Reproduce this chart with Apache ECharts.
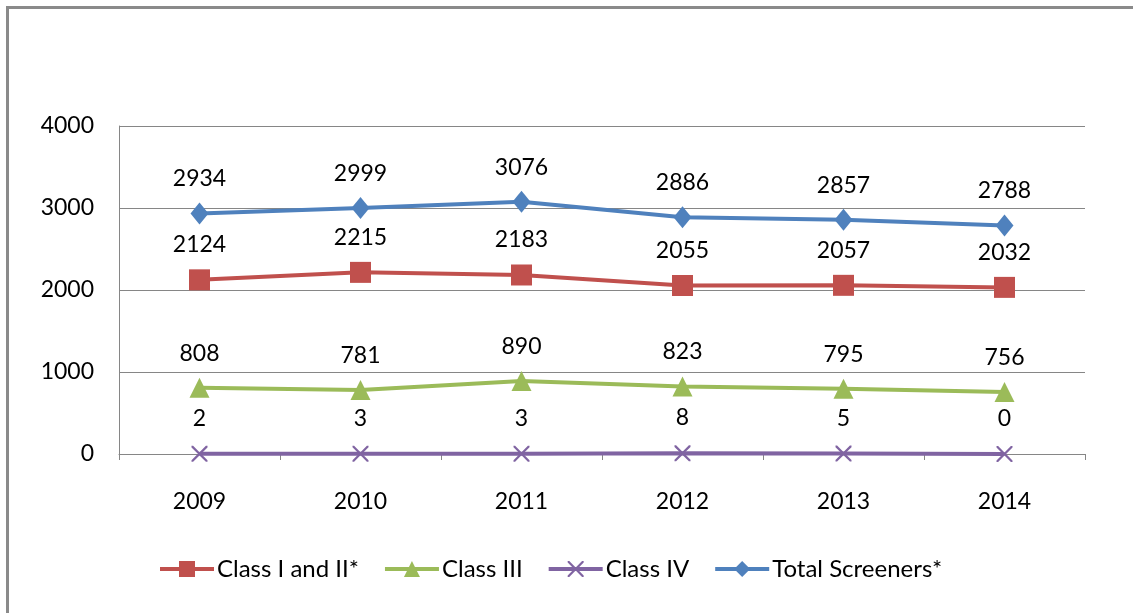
<!DOCTYPE html>
<html>
<head>
<meta charset="utf-8">
<script src="https://cdn.jsdelivr.net/npm/echarts@6/dist/echarts.min.js"></script>
<style>
html,body{margin:0;padding:0;background:#fff;}
#frame{position:absolute;left:6px;top:6px;width:1127px;height:607px;border-left:3px solid #8a8a8a;border-top:3px solid #8a8a8a;box-sizing:border-box;}
#chart{position:absolute;left:0;top:0;width:1133px;height:613px;}
</style>
</head>
<body>
<div id="frame"></div>
<div id="chart"></div>
<script>
var years = ['2009', '2010', '2011', '2012', '2013', '2014'];
var classIandII = [2124, 2215, 2183, 2055, 2057, 2032];
var classIII = [808, 781, 890, 823, 795, 756];
var classIV = [2, 3, 3, 8, 5, 0];
var totalScreeners = [2934, 2999, 3076, 2886, 2857, 2788];
var seriesNames = ['Class I and II*', 'Class III', 'Class IV', 'Total Screeners*'];

var FONT = 'Lato';
var crossPath = 'path://M0,0 L2,0 L10,8 L18,0 L20,0 L20,2 L12,10 L20,18 L20,20 L18,20 L10,12 L2,20 L0,20 L0,18 L8,10 L0,2 Z';

function mk(name, data, color, symbol, size, dist) {
  return {
    name: name,
    type: 'line',
    data: data,
    symbol: symbol,
    symbolSize: size,
    showAllSymbol: true,
    lineStyle: {color: color, width: 4},
    itemStyle: {color: color},
    label: {show: true, position: 'top', distance: dist, color: '#000', fontFamily: FONT, fontSize: 23},
    emphasis: {disabled: true},
    animation: false
  };
}

var chart = echarts.init(document.getElementById('chart'));
chart.setOption({
  backgroundColor: 'transparent',
  animation: false,
  grid: {left: 119, right: 48, top: 126, bottom: 159},
  legend: {
    bottom: 27,
    left: 153,
    itemWidth: 54,
    itemHeight: 20,
    itemGap: 24,
    lineStyle: {width: 4},
    textStyle: {fontFamily: FONT, fontSize: 24, color: '#000', padding: [0, 0, 0, -2]},
    data: seriesNames
  },
  xAxis: {
    type: 'category',
    data: years,
    boundaryGap: true,
    axisLine: {lineStyle: {color: '#868686', width: 1}},
    axisTick: {show: true, length: 6, lineStyle: {color: '#868686'}},
    axisLabel: {fontFamily: FONT, fontSize: 23, color: '#000', margin: 36}
  },
  yAxis: {
    type: 'value',
    min: 0,
    max: 4000,
    interval: 1000,
    axisLine: {show: true, lineStyle: {color: '#868686', width: 1}},
    axisTick: {show: false},
    splitLine: {lineStyle: {color: '#868686', width: 1}},
    axisLabel: {fontFamily: FONT, fontSize: 23, color: '#000', margin: 25, formatter: function (v) { return String(v); }}
  },
  series: [
    mk(seriesNames[0], classIandII, '#C0504D', 'rect', 21, 13),
    mk(seriesNames[1], classIII, '#9BBB59', 'triangle', 20, 13),
    mk(seriesNames[2], classIV, '#8064A2', crossPath, 16, 16),
    mk(seriesNames[3], totalScreeners, '#4F81BD', 'diamond', [18, 22], 12)
  ]
});
</script>
</body>
</html>
